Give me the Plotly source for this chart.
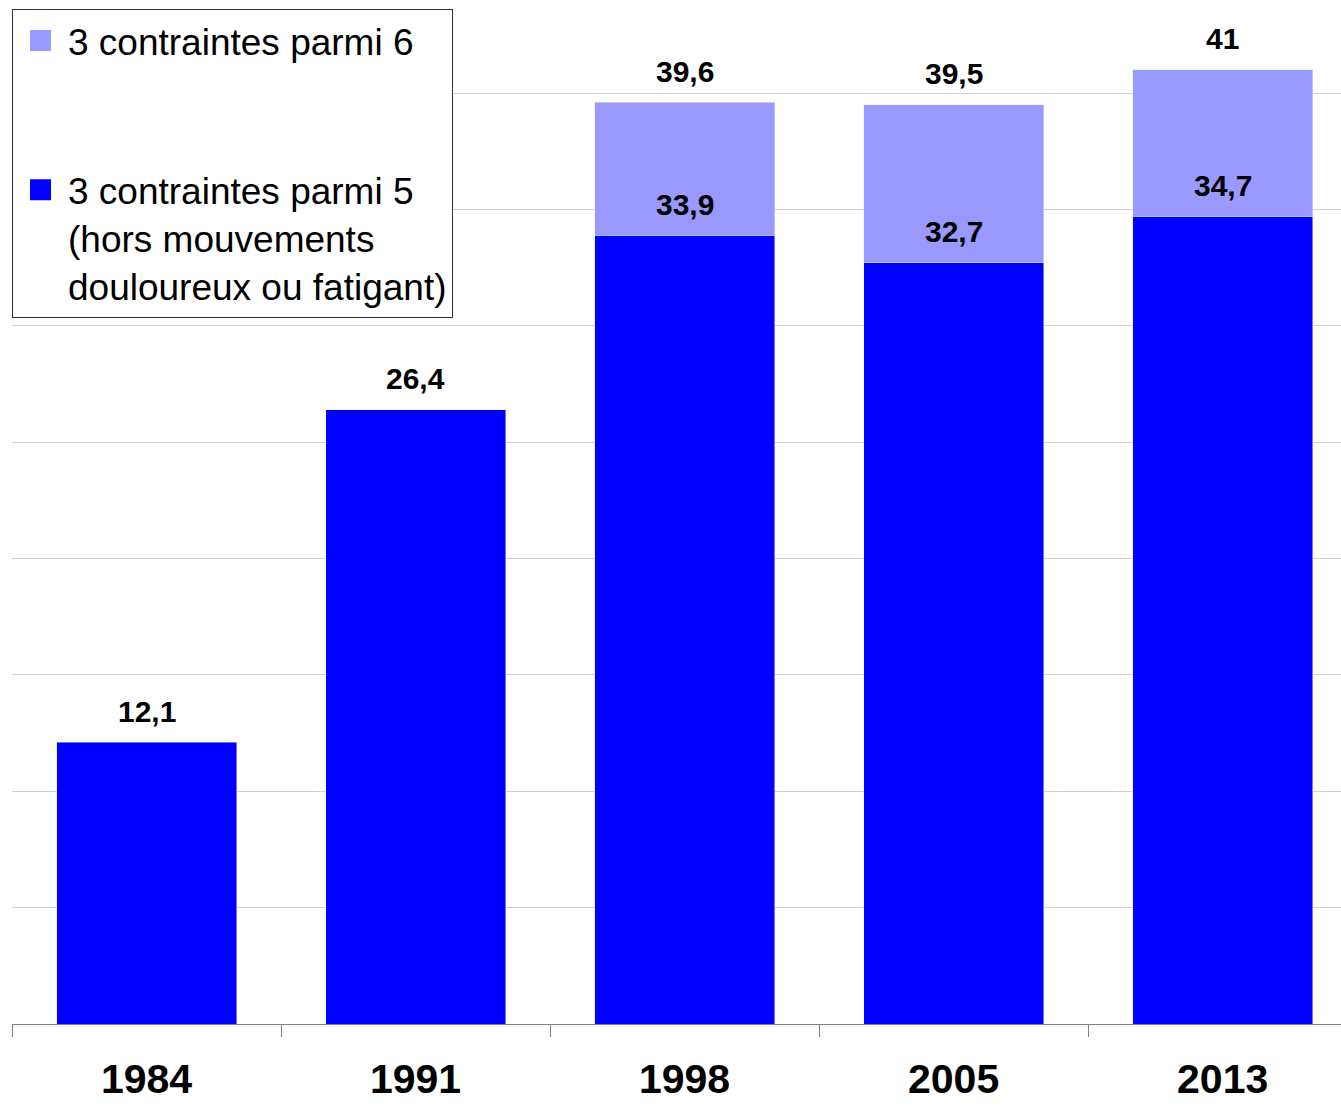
import plotly.graph_objects as go

# data (percent)
years = ["1984", "1991", "1998", "2005", "2013"]
parmi5 = [12.1, 26.4, 33.9, 32.7, 34.7]          # 3 contraintes parmi 5
parmi6 = [None, None, 39.6, 39.5, 41.0]          # 3 contraintes parmi 6 (total)

dark = "#0000FF"
light = "#9999FF"
font = "Liberation Sans, Arial, sans-serif"

name5 = "3 contraintes parmi 5<br>(hors mouvements<br>douloureux ou fatigant)"
name6 = "3 contraintes parmi 6"

# light segment stacked on top of the dark one
extra = [None if t is None else round(t - d, 1) for d, t in zip(parmi5, parmi6)]

def fr(v):
    return ("%g" % v).replace(".", ",")

fig = go.Figure()
fig.add_trace(go.Bar(x=years, y=parmi5, marker_color=dark, showlegend=False))
fig.add_trace(go.Bar(x=years, y=extra, marker_color=light, showlegend=False))

# legend-only entries (bigger square swatches than the bar legend icon)
for nm, col, grp, rk in [(name6, light, "a", 1), (name5, dark, "b", 2)]:
    fig.add_trace(go.Scatter(x=[None], y=[None], mode="markers", name=nm,
                             marker=dict(symbol="square", size=16, color=col,
                                         line=dict(color=col, width=5)),
                             legendgroup=grp, legendrank=rk))

# value labels above each segment top
for i, (d, t) in enumerate(zip(parmi5, parmi6)):
    fig.add_annotation(x=i, y=d, text="<b>%s</b>" % fr(d), showarrow=False,
                       yanchor="middle", yshift=31, font=dict(size=30, color="black", family=font))
    if t is not None:
        fig.add_annotation(x=i, y=t, text="<b>%s</b>" % fr(t), showarrow=False,
                           yanchor="middle", yshift=31, font=dict(size=30, color="black", family=font))

fig.update_layout(
    width=1341, height=1106,
    margin=dict(l=12, r=0, t=0, b=82),
    barmode="stack", bargap=0.331,
    plot_bgcolor="white", paper_bgcolor="white",
    font=dict(family=font, color="black"),
    showlegend=True,
    legend=dict(x=0, y=1 - 9 / 1024, xanchor="left", yanchor="top",
                bgcolor="white", bordercolor="#333333", borderwidth=1,
                font=dict(size=37, family=font, color="black"),
                itemwidth=45, traceorder="grouped", tracegroupgap=98, valign="top"),
)
fig.update_xaxes(type="category", range=[-0.5, 4.44], tickson="boundaries",
                 ticks="outside", ticklen=12, tickcolor="#808080",
                 showline=True, linecolor="#808080", linewidth=1,
                 tickfont=dict(size=41, family=font, color="black", weight="bold"),
                 ticklabelstandoff=19, automargin=False)
fig.update_yaxes(range=[0, 44], dtick=5, showticklabels=False,
                 showgrid=True, gridcolor="#D0D0D0", gridwidth=1, zeroline=False)

# page body margin off so the figure sits at the window origin
fig.write_html("out.html", config={"displayModeBar": False},
               post_script="document.body.style.margin='0';")
